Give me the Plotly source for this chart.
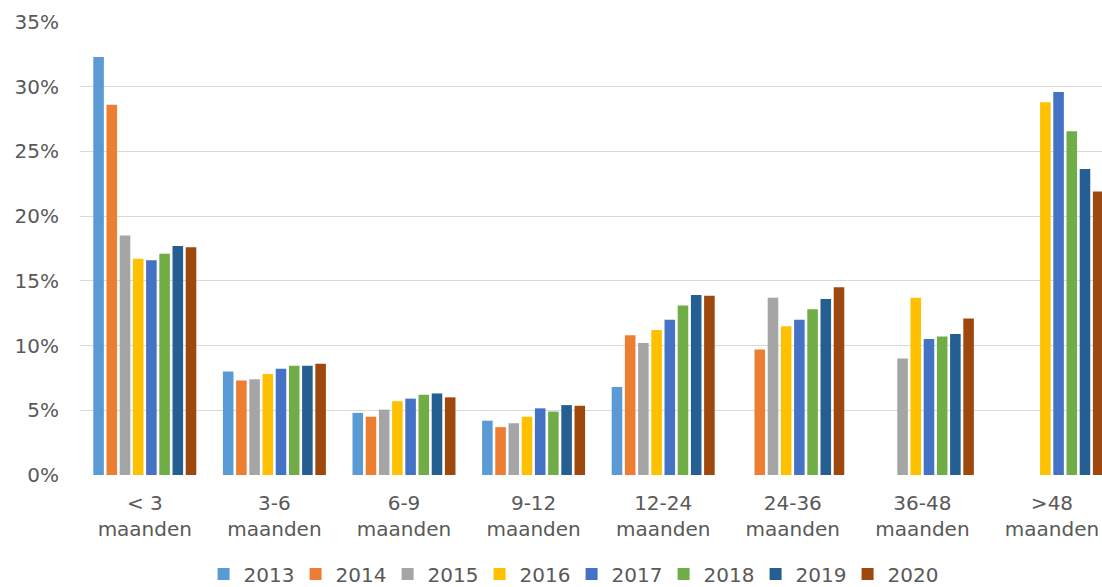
import plotly.graph_objects as go

categories = ["< 3<br>maanden", "3-6<br>maanden", "6-9<br>maanden", "9-12<br>maanden",
              "12-24<br>maanden", "24-36<br>maanden", "36-48<br>maanden", ">48<br>maanden"]

years = ["2013", "2014", "2015", "2016", "2017", "2018", "2019", "2020"]

# share per duration class (%), None = no bar
v2013 = [32.3, 8.0, 4.8, 4.2, 6.8, None, None, None]
v2014 = [28.6, 7.3, 4.5, 3.7, 10.8, 9.7, None, None]
v2015 = [18.5, 7.4, 5.05, 4.0, 10.2, 13.7, 9.0, None]
v2016 = [16.7, 7.8, 5.7, 4.5, 11.2, 11.5, 13.7, 28.8]
v2017 = [16.6, 8.2, 5.9, 5.15, 12.0, 12.0, 10.5, 29.6]
v2018 = [17.1, 8.45, 6.2, 4.9, 13.1, 12.8, 10.7, 26.55]
v2019 = [17.7, 8.45, 6.3, 5.4, 13.9, 13.6, 10.9, 23.65]
v2020 = [17.6, 8.6, 6.0, 5.35, 13.85, 14.5, 12.1, 21.9]

y_ticks = [0, 5, 10, 15, 20, 25, 30, 35]
y_labels = ["0%", "5%", "10%", "15%", "20%", "25%", "30%", "35%"]

series = [v2013, v2014, v2015, v2016, v2017, v2018, v2019, v2020]
colors = ["#5B9BD5", "#ED7D31", "#A5A5A5", "#FFC000", "#4472C4", "#70AD47", "#255E91", "#9E480E"]

fig = go.Figure()
for year, vals, col in zip(years, series, colors):
    fig.add_trace(go.Bar(x=categories, y=vals, name=year,
                         marker=dict(color=col, line=dict(width=0))))

font_col = "#595959"
fig.update_layout(
    width=1102, height=587,
    margin=dict(l=80, r=0, t=22, b=112, autoexpand=False),
    paper_bgcolor="white", plot_bgcolor="white",
    font=dict(family="DejaVu Sans", size=20, color=font_col),
    barmode="group", bargap=0.185, bargroupgap=0.2,
    xaxis=dict(range=[-0.5, 7.386], showgrid=False, zeroline=False, showline=False,
               automargin=False, ticklabelstandoff=14, tickfont=dict(size=20, color=font_col)),
    yaxis=dict(range=[0, 35], tickmode="array", tickvals=y_ticks, ticktext=y_labels,
               showgrid=True, gridcolor="#D9D9D9", gridwidth=1.3, zeroline=False,
               showline=False, automargin=False, ticklabelstandoff=20,
               tickfont=dict(size=20, color=font_col)),
    legend=dict(orientation="h", xanchor="center", x=0.481, yref="container",
                yanchor="middle", y=0.022, entrywidth=47,
                font=dict(size=20, color=font_col), itemwidth=30, traceorder="normal"),
    showlegend=True,
)

# drop the default body margin so the figure sits at the page's top-left corner
fig.write_html("out.html", config={"displayModeBar": False},
               post_script="document.body.style.margin='0';document.body.style.overflow='hidden';")
